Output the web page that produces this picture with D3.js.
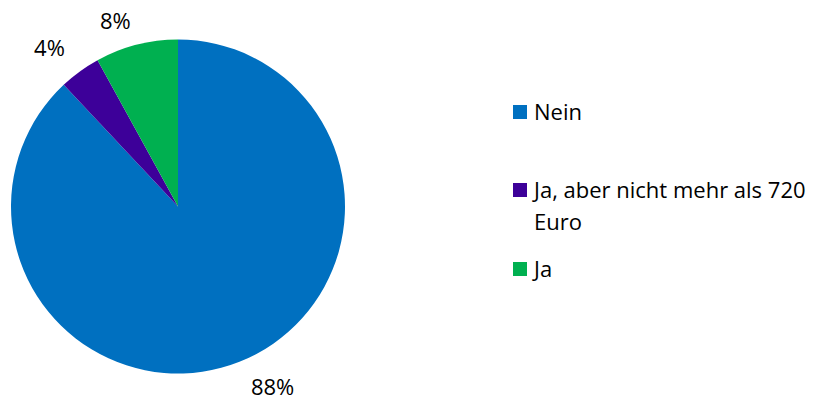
<!DOCTYPE html>
<html>
<head>
<meta charset="utf-8">
<script src="https://cdn.jsdelivr.net/npm/d3@7"></script>
<style>
  body { margin: 0; background: #fff; }
  svg { display: block; }
  text { font-family: "Open Sans", Lato, sans-serif; fill: #000; }
</style>
</head>
<body>
<svg id="chart" width="821" height="400"></svg>
<script>
// Antworten und Anteile in Prozent
const categories = ["Nein", "Ja, aber nicht mehr als 720 Euro", "Ja"];
const legendLines = [["Nein"], ["Ja, aber nicht mehr als 720", "Euro"], ["Ja"]];
const values = [88, 4, 8];
const colors = ["#0070C0", "#3D0099", "#00B050"];

const cx = 178, cy = 206.5, radius = 167;
const fontSize = 22;

const svg = d3.select("#chart");

const pie = d3.pie().sort(null).value(d => d)(values);
const arc = d3.arc().innerRadius(0).outerRadius(radius);
const labelArc = d3.arc().innerRadius(200).outerRadius(200);
// small offsets so each label box sits clear of the rim
const labelNudge = [[21, -6], [-11, 2], [-13, 7]];

const g = svg.append("g").attr("transform", `translate(${cx},${cy})`);

g.selectAll("path.slice")
  .data(pie)
  .join("path")
  .attr("class", "slice")
  .attr("d", arc)
  .attr("fill", (d, i) => colors[i]);

g.selectAll("text.pct")
  .data(pie)
  .join("text")
  .attr("class", "pct")
  .attr("x", (d, i) => labelArc.centroid(d)[0] + labelNudge[i][0])
  .attr("y", (d, i) => labelArc.centroid(d)[1] + labelNudge[i][1])
  .attr("text-anchor", "middle")
  .attr("dominant-baseline", "central")
  .attr("font-size", fontSize)
  .text(d => d.data + "%");

// Legende
const legendYs = [120, 198, 277];
const legend = svg.append("g");
categories.forEach((c, i) => {
  const base = legendYs[i];
  legend.append("rect")
    .attr("x", 513).attr("y", base - 15)
    .attr("width", 14).attr("height", 14)
    .attr("fill", colors[i]);
  const t = legend.append("text")
    .attr("x", 534).attr("y", base)
    .attr("font-size", fontSize);
  legendLines[i].forEach((line, j) => {
    t.append("tspan").attr("x", 534).attr("dy", j === 0 ? 0 : 32).text(line);
  });
});
</script>
</body>
</html>
